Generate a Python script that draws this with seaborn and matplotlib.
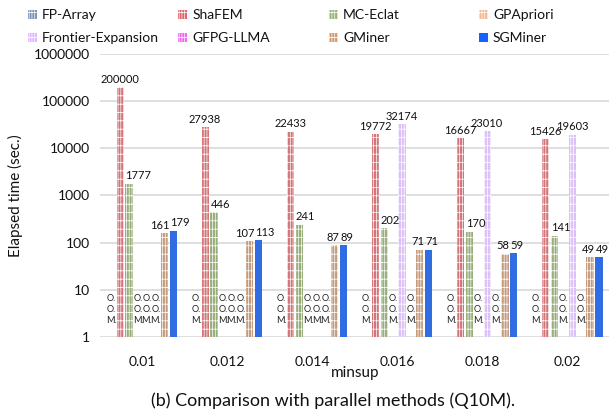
import numpy as np
import pandas as pd
import matplotlib
matplotlib.use("Agg")
import matplotlib.pyplot as plt
import seaborn as sns

# Elapsed time (sec.) per method and minsup; None = out of memory (O.O.M.)
minsup = ["0.01", "0.012", "0.014", "0.016", "0.018", "0.02"]
methods = ["FP-Array", "ShaFEM", "MC-Eclat", "GPApriori",
           "Frontier-Expansion", "GFPG-LLMA", "GMiner", "SGMiner"]
fp_array = [None, None, None, None, None, None]
shafem = [200000, 27938, 22433, 19772, 16667, 15426]
mc_eclat = [1777, 446, 241, 202, 170, 141]
gpapriori = [None, None, None, None, None, None]
frontier_expansion = [None, None, None, 32174, 23010, 19603]
gfpg_llma = [None, None, None, None, None, None]
gminer = [161, 107, 87, 71, 58, 49]
sgminer = [179, 113, 89, 71, 59, 49]
yticks = [1, 10, 100, 1000, 10000, 100000, 1000000]

series = [fp_array, shafem, mc_eclat, gpapriori,
          frontier_expansion, gfpg_llma, gminer, sgminer]
colors = ["#7d90b8", "#e2646a", "#98b572", "#f5b98e",
          "#dcb8ff", "#ec68ec", "#d09a70", "#1463ff"]
hatched = [True, True, True, True, True, True, True, False]
# label anchoring per method, keeps neighbouring numbers apart
label_align = ["center", "center", "left", "center",
               "center", "center", "right", "left"]
HATCH = "||||||--"

rows = []
for m, vals in zip(methods, series):
    for s, v in zip(minsup, vals):
        rows.append({"minsup": s, "method": m,
                     "time": np.nan if v is None else float(v)})
df = pd.DataFrame(rows)

sns.set_theme(style="white")
FONT = ["Lato", "DejaVu Sans"]
plt.rcParams["font.family"] = FONT
plt.rcParams["hatch.color"] = "white"
plt.rcParams["hatch.linewidth"] = 0.5

fig = plt.figure(figsize=(6.09, 4.19), dpi=100)
ax = fig.add_axes([0.164, 0.196, 0.838, 0.675])

sns.barplot(data=df.dropna(), x="minsup", y="time", hue="method",
            order=minsup, hue_order=methods, palette=dict(zip(methods, colors)),
            width=0.84, gap=0.2, ax=ax, legend=False, errorbar=None)
ax.set_yscale("log")
ax.set_ylim(1, 1000000)
ax.set_xlim(-0.5, len(minsup) - 0.5)

# Fine white stripes on every method except SGMiner
for cont, h in zip(ax.containers, hatched):
    for bar in cont:
        bar.set_linewidth(0)
        if h:
            bar.set_hatch(HATCH)
            bar.set_edgecolor("white")

# Value labels above bars, O.O.M. markers where a method ran out of memory
nh = len(methods)
pitch = 0.84 / nh
half_bar = pitch * 0.8 / 2
for i, (m, vals) in enumerate(zip(methods, series)):
    for j, v in enumerate(vals):
        x = j - 0.42 + pitch * (i + 0.5)
        if v is None:
            ax.text(x, 1.75, "O.\nO.\nM.", ha="center", va="bottom",
                    fontsize=6.6, linespacing=1.3, color="#222222")
        else:
            ha = label_align[i]
            xl = x - half_bar if ha == "left" else (x + half_bar + 0.01 if ha == "right" else x)
            ax.text(xl, v * 1.12, f"{v}", ha=ha, va="bottom",
                    fontsize=8, color="#111111")

ax.set_yticks(yticks)
ax.set_yticklabels([str(t) for t in yticks])
ax.yaxis.set_minor_locator(matplotlib.ticker.NullLocator())
ax.tick_params(axis="both", length=0, labelsize=10, colors="#111111")
ax.tick_params(axis="x", pad=14)
ax.tick_params(axis="y", pad=7)
ax.grid(axis="y", color="#d9d9d9", linewidth=1.2)
ax.set_axisbelow(True)
for s in ax.spines.values():
    s.set_visible(False)

ax.set_xlabel("minsup", fontsize=11, labelpad=-2, color="#111111")
ax.set_ylabel("Elapsed time (sec.)", fontsize=11, labelpad=8, color="#111111")

fig.text(0.547, 0.024, "(b) Comparison with parallel methods (Q10M).",
         ha="center", va="bottom", fontsize=13, color="#111111")

# Four legend columns at fixed horizontal positions
col_x = [0.042, 0.288, 0.536, 0.782]
handles = [matplotlib.patches.Patch(facecolor=c, edgecolor="white" if h else c,
                                    hatch=HATCH if h else None, linewidth=0)
           for c, h in zip(colors, hatched)]
for k in range(4):
    idx = [k, k + 4]
    leg = fig.legend([handles[i] for i in idx], [methods[i] for i in idx],
                     loc="upper left", bbox_to_anchor=(col_x[k], 0.985),
                     frameon=False, fontsize=10, handlelength=0.65,
                     handleheight=0.65, handletextpad=0.35, labelspacing=0.8,
                     borderaxespad=0, borderpad=0.2)
    for t in leg.get_texts():
        t.set_color("#111111")

fig.savefig("out.png", dpi=100)
